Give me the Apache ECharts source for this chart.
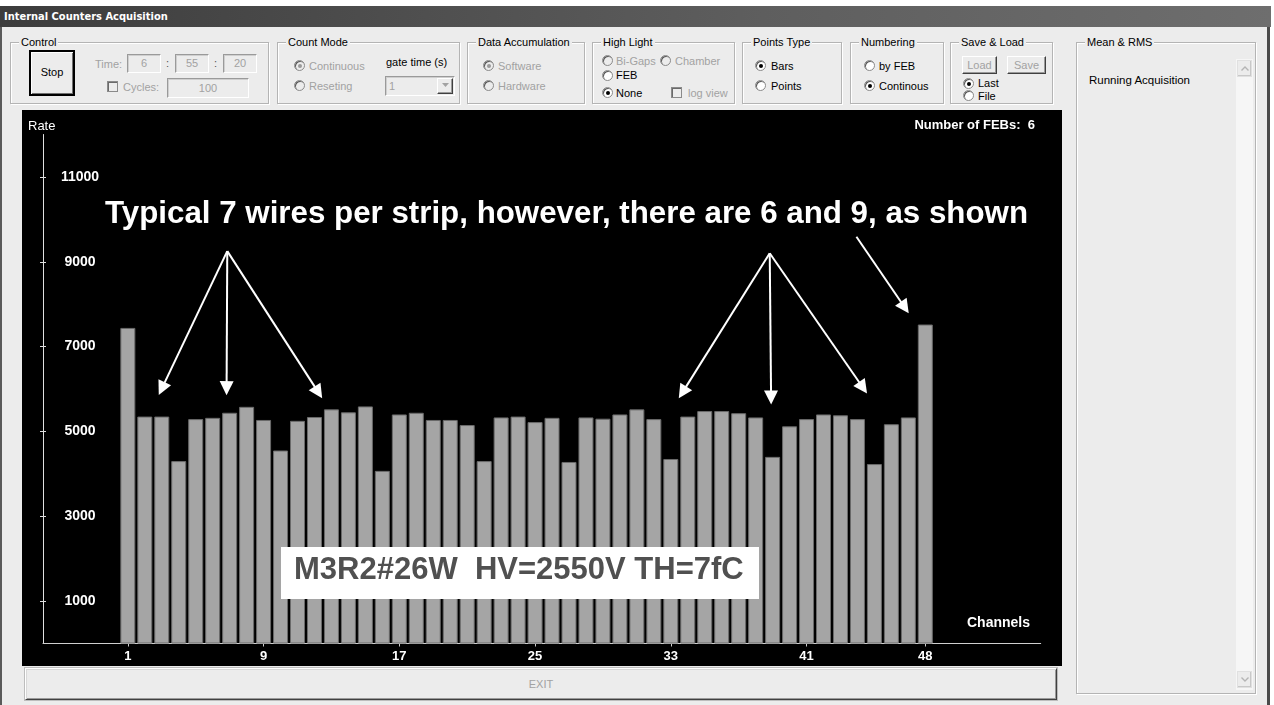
<!DOCTYPE html>
<html>
<head>
<meta charset="utf-8">
<title>Internal Counters Acquisition</title>
<script src="https://cdn.jsdelivr.net/npm/echarts@6/dist/echarts.min.js"></script>
<style>
  html, body { margin: 0; padding: 0; }
  body { width: 1274px; height: 705px; position: relative; overflow: hidden; background: #fff;
         font-family: "Liberation Sans", Arial, sans-serif; font-size: 11px; color: #000; }
  .win { position: absolute; left: 0; top: 6px; width: 1270px; height: 699px; background: #ececec;
         border-left: 2px solid #5a5a5a; border-right: 3px solid #4a4a4a; box-sizing: border-box; }
  .titlebar { position: absolute; left: 0; top: 6px; width: 1271px; height: 21px;
              background: linear-gradient(to right, #3c3c3c, #5e5e5e 60%, #6e6e6e); }
  .titlebar span { position: absolute; left: 4px; top: 4px; color: #fff; font-weight: bold; font-size: 11px;
                   font-family: "DejaVu Sans Condensed", "Liberation Sans", sans-serif; }
  .abs { position: absolute; white-space: nowrap; }
  .grp { position: absolute; border: 1px solid #b4b4b4; box-shadow: inset 1px 1px 0 #fff, 1px 1px 0 #fff; }
  .grp > .cap { position: absolute; top: -7px; left: 8px; background: #ececec; padding: 0 2px; line-height: 12px; }
  .lbl { position: absolute; white-space: nowrap; line-height: 12px; }
  .dis { color: #a2a2a2; }
  .radio { position: absolute; width: 11px; height: 11px; border-radius: 50%; box-sizing: border-box;
           border: 1px solid #8a8a8a; background: #fff; box-shadow: inset 1px 1px 0 #5a5a5a; }
  .radio.d { background: #ececec; }
  .radio.on::after { content: ""; position: absolute; left: 3px; top: 3px; width: 4px; height: 4px; border-radius: 50%; background: #000; }
  .radio.d.on::after { background: #9a9a9a; }
  .chk { position: absolute; width: 11px; height: 11px; box-sizing: border-box; border: 1px solid #8a8a8a;
         background: #ececec; box-shadow: inset 1px 1px 0 #6a6a6a; }
  .edit { position: absolute; box-sizing: border-box; background: #ececec; color: #a2a2a2; text-align: center;
          border-top: 1px solid #9a9a9a; border-left: 1px solid #9a9a9a; border-right: 1px solid #fff; border-bottom: 1px solid #fff;
          box-shadow: inset 1px 1px 0 #cfcfcf; font-size: 11px; }
  .btn { position: absolute; box-sizing: border-box; background: #ececec; text-align: center;
         border-top: 1px solid #fff; border-left: 1px solid #fff; border-right: 1px solid #404040; border-bottom: 1px solid #404040;
         box-shadow: inset -1px -1px 0 #9a9a9a; }
  .btn svg { display: block; margin: 4px auto 0; }
  #chart { position: absolute; left: 22px; top: 110px; width: 1040px; height: 556px; background: #000; }
</style>
</head>
<body>
<div class="win"></div>
<div class="titlebar"><span>Internal Counters Acquisition</span></div>

<!-- Control -->
<div class="grp" style="left:10px;top:42px;width:257px;height:60px;"><span class="cap">Control</span></div>
<div class="btn" style="left:29px;top:50px;width:46px;height:46px;border:2px solid #000;box-shadow: inset 1px 1px 0 #fff, inset -1px -1px 0 #707070;line-height:40px;">Stop</div>
<div class="lbl dis" style="left:95px;top:58px;">Time:</div>
<div class="edit" style="left:127px;top:54px;width:34px;height:19px;line-height:17px;">6</div>
<div class="lbl dis" style="left:166px;top:57px;color:#555;">:</div>
<div class="edit" style="left:175px;top:54px;width:34px;height:19px;line-height:17px;">55</div>
<div class="lbl dis" style="left:214px;top:57px;color:#555;">:</div>
<div class="edit" style="left:223px;top:54px;width:34px;height:19px;line-height:17px;">20</div>
<div class="chk" style="left:107px;top:81px;"></div>
<div class="lbl dis" style="left:123px;top:81px;">Cycles:</div>
<div class="edit" style="left:167px;top:78px;width:82px;height:20px;line-height:18px;">100</div>

<!-- Count Mode -->
<div class="grp" style="left:277px;top:42px;width:181px;height:60px;"><span class="cap">Count Mode</span></div>
<div class="radio d on" style="left:294px;top:60px;"></div>
<div class="lbl dis" style="left:309px;top:60px;">Continuous</div>
<div class="radio d" style="left:294px;top:80px;"></div>
<div class="lbl dis" style="left:309px;top:80px;">Reseting</div>
<div class="lbl" style="left:386px;top:56px;">gate time (s)</div>
<div class="edit" style="left:385px;top:76px;width:70px;height:20px;text-align:left;padding-left:3px;line-height:18px;">1</div>
<div class="btn" style="left:437px;top:78px;width:16px;height:16px;">
  <svg width="7" height="4" viewBox="0 0 7 4"><polygon points="0,0 7,0 3.5,4" fill="#a2a2a2"/></svg>
</div>

<!-- Data Accumulation -->
<div class="grp" style="left:467px;top:42px;width:116px;height:60px;"><span class="cap">Data Accumulation</span></div>
<div class="radio d on" style="left:483px;top:60px;"></div>
<div class="lbl dis" style="left:498px;top:60px;">Software</div>
<div class="radio d" style="left:483px;top:80px;"></div>
<div class="lbl dis" style="left:498px;top:80px;">Hardware</div>

<!-- High Light -->
<div class="grp" style="left:592px;top:42px;width:141px;height:60px;"><span class="cap">High Light</span></div>
<div class="radio d" style="left:602px;top:55px;"></div>
<div class="lbl dis" style="left:616px;top:55px;">Bi-Gaps</div>
<div class="radio d" style="left:660px;top:55px;"></div>
<div class="lbl dis" style="left:675px;top:55px;">Chamber</div>
<div class="radio" style="left:602px;top:70px;"></div>
<div class="lbl" style="left:616px;top:69px;">FEB</div>
<div class="radio on" style="left:602px;top:87px;"></div>
<div class="lbl" style="left:616px;top:87px;">None</div>
<div class="chk" style="left:671px;top:87px;"></div>
<div class="lbl dis" style="left:688px;top:87px;">log view</div>

<!-- Points Type -->
<div class="grp" style="left:742px;top:42px;width:98px;height:60px;"><span class="cap">Points Type</span></div>
<div class="radio on" style="left:755px;top:60px;"></div>
<div class="lbl" style="left:771px;top:60px;">Bars</div>
<div class="radio" style="left:755px;top:80px;"></div>
<div class="lbl" style="left:771px;top:80px;">Points</div>

<!-- Numbering -->
<div class="grp" style="left:850px;top:42px;width:92px;height:60px;"><span class="cap">Numbering</span></div>
<div class="radio" style="left:864px;top:60px;"></div>
<div class="lbl" style="left:879px;top:60px;">by FEB</div>
<div class="radio on" style="left:864px;top:80px;"></div>
<div class="lbl" style="left:879px;top:80px;">Continous</div>

<!-- Save & Load -->
<div class="grp" style="left:950px;top:42px;width:101px;height:60px;"><span class="cap">Save &amp; Load</span></div>
<div class="btn dis" style="left:962px;top:56px;width:35px;height:18px;line-height:16px;">Load</div>
<div class="btn dis" style="left:1007px;top:56px;width:39px;height:18px;line-height:16px;">Save</div>
<div class="radio on" style="left:963px;top:78px;"></div>
<div class="lbl" style="left:978px;top:77px;">Last</div>
<div class="radio" style="left:963px;top:90px;"></div>
<div class="lbl" style="left:978px;top:90px;">File</div>

<!-- Mean & RMS -->
<div class="grp" style="left:1076px;top:42px;width:178px;height:650px;"><span class="cap">Mean &amp; RMS</span></div>
<div class="lbl" style="left:1089px;top:74px;font-size:11.5px;">Running Acquisition</div>
<div class="abs" style="left:1236px;top:59px;width:17px;height:631px;background:#f6f6f6;"></div>
<div class="btn" style="left:1237px;top:60px;width:15px;height:17px;border-color:#e0e0e0;box-shadow:inset -1px -1px 0 #c8c8c8;">
  <svg width="8" height="5" viewBox="0 0 8 5" style="margin-top:5px"><polyline points="0.5,4.5 4,1 7.5,4.5" fill="none" stroke="#b4b4b4" stroke-width="1.4"/></svg>
</div>
<div class="btn" style="left:1237px;top:671px;width:15px;height:17px;border-color:#e0e0e0;box-shadow:inset -1px -1px 0 #c8c8c8;">
  <svg width="8" height="5" viewBox="0 0 8 5" style="margin-top:5px"><polyline points="0.5,0.5 4,4 7.5,0.5" fill="none" stroke="#b4b4b4" stroke-width="1.4"/></svg>
</div>

<!-- EXIT -->
<div class="btn dis" style="left:25px;top:668px;width:1032px;height:32px;line-height:30px;font-size:11px;box-shadow: inset 1px 1px 0 #d8d8d8, inset -1px -1px 0 #9a9a9a, 0 0 0 1px #bdbdbd;">EXIT</div>

<div id="chart"></div>

<script>
// Channel rates read from the acquisition (48 channels, continuous numbering)
const channels = [1, 2, 3, 4, 5, 6, 7, 8, 9, 10, 11, 12, 13, 14, 15, 16,
                  17, 18, 19, 20, 21, 22, 23, 24, 25, 26, 27, 28, 29, 30, 31, 32,
                  33, 34, 35, 36, 37, 38, 39, 40, 41, 42, 43, 44, 45, 46, 47, 48];
const rates = [7440, 5350, 5350, 4300, 5290, 5320, 5440, 5580, 5270, 4550, 5250, 5340, 5520, 5450, 5590, 4070,
               5400, 5440, 5270, 5270, 5150, 4300, 5330, 5350, 5220, 5320, 4280, 5330, 5300, 5400, 5520, 5290,
               4350, 5350, 5480, 5480, 5430, 5330, 4400, 5120, 5290, 5400, 5380, 5290, 4230, 5170, 5330, 7520];
const rateTicks = [1000, 3000, 5000, 7000, 9000, 11000];
const channelTicks = [1, 9, 17, 25, 33, 41, 48];

// Annotation pointers in (channel, rate) coordinates: [from, arrowhead centre]
const pointers = [
  [[6.86, 9250], [3.00, 6010]],
  [[6.86, 9250], [6.82, 6020]],
  [[6.86, 9250], [12.23, 5920]],
  [[38.83, 9200], [33.69, 5920]],
  [[38.83, 9200], [38.91, 5800]],
  [[38.83, 9200], [44.33, 6030]],
  [[43.94, 9590], [46.79, 7920]]
];

const chart = echarts.init(document.getElementById('chart'), null, { renderer: 'canvas' });
const tickFont = '"Liberation Sans Narrow", "Liberation Sans", Arial, sans-serif';
const plain = v => String(v);

const option = {
  backgroundColor: '#000',
  animation: false,
  grid: { left: 21, right: 21.3, top: 24.5, bottom: 22.5 },
  xAxis: [{
    type: 'value', min: -4, max: 54.8,
    splitLine: { show: false },
    axisLine: { show: true, onZero: false, lineStyle: { color: '#cfcfcf', width: 1 } },
    axisTick: { show: true, length: 3, customValues: channelTicks, lineStyle: { color: '#cfcfcf' } },
    axisLabel: { customValues: channelTicks, formatter: plain, color: '#fff', fontWeight: 'bold', fontSize: 13, margin: 6, fontFamily: tickFont }
  }, {
    type: 'value', min: -4, max: 54.8, position: 'bottom', offset: 0,
    splitLine: { show: false }, axisLine: { show: false, onZero: false }, axisLabel: { show: false },
    axisTick: { show: true, inside: true, length: 3, customValues: channelTicks, lineStyle: { color: '#cfcfcf' } }
  }],
  yAxis: [{
    type: 'value', min: 0, max: 12000,
    splitLine: { show: false },
    axisLine: { show: true, onZero: false, lineStyle: { color: '#e0e0e0', width: 1 } },
    axisTick: { show: true, length: 3, customValues: rateTicks, lineStyle: { color: '#e0e0e0' } },
    axisLabel: { customValues: rateTicks, formatter: plain, inside: true, align: 'center', margin: 37, color: '#fff',
                 fontWeight: 'bold', fontSize: 14, fontFamily: tickFont }
  }, {
    type: 'value', min: 0, max: 12000, position: 'left', offset: 0,
    splitLine: { show: false }, axisLine: { show: false, onZero: false }, axisLabel: { show: false },
    axisTick: { show: true, inside: true, length: 3, customValues: rateTicks, lineStyle: { color: '#e0e0e0' } }
  }],
  series: [{
    type: 'bar',
    xAxisIndex: 0, yAxisIndex: 0,
    data: channels.map((c, i) => [c, rates[i]]),
    barWidth: 15,
    itemStyle: { color: '#a5a5a5', borderColor: '#6a6a6a', borderWidth: 1 },
    silent: true,
    markLine: {
      silent: true,
      symbol: ['none', 'triangle'],
      symbolSize: 14,
      label: { show: false },
      lineStyle: { color: '#fff', width: 2, type: 'solid' },
      data: pointers.map(p => [{ coord: p[0] }, { coord: p[1] }])
    }
  }],
  graphic: [
    { type: 'text', left: 6, top: 10, z: 100, style: { text: 'Rate', fill: '#fff', font: '13px "Liberation Sans", Arial, sans-serif' } },
    { type: 'text', right: 27, top: 9, z: 100, style: { text: 'Number of FEBs:  6', fill: '#fff', font: 'bold 13px "Liberation Sans", Arial, sans-serif' } },
    { type: 'text', left: 945, top: 506, z: 100, style: { text: 'Channels', fill: '#fff', font: 'bold 14px "Liberation Sans", Arial, sans-serif' } },
    { type: 'text', x: 544.5, y: 104.6, z: 100,
      style: { text: 'Typical 7 wires per strip, however, there are 6 and 9, as shown', fill: '#fff',
               font: 'bold 31.3px "Liberation Sans", Arial, sans-serif', textAlign: 'center', textVerticalAlign: 'middle' } },
    { type: 'rect', z: 100, shape: { x: 259, y: 437, width: 478, height: 52 }, style: { fill: '#fff' } },
    { type: 'text', x: 272, y: 460.6, z: 101,
      style: { text: 'M3R2#26W  HV=2550V TH=7fC', fill: '#505050',
               font: 'bold 31px "Liberation Sans", Arial, sans-serif', textAlign: 'left', textVerticalAlign: 'middle' } }
  ]
};
chart.setOption(option);
</script>
</body>
</html>
